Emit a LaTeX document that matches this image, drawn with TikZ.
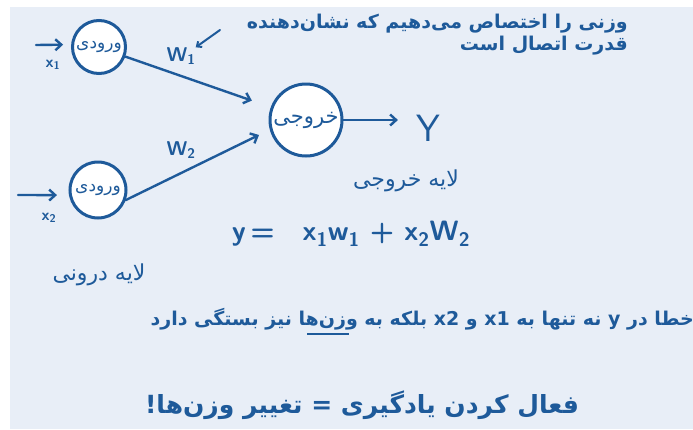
\documentclass[tikz,border=0pt]{standalone}
\usepackage{fontspec}
\usepackage{tikz}
\usetikzlibrary{arrows.meta,calc}
\newfontfamily\fa[Script=Arabic]{DejaVu Sans}
\TeXXeTstate=1
\definecolor{ink}{HTML}{1E5A9A}
\definecolor{paper}{HTML}{E8EEF7}
\newcommand\rtl[1]{\beginR #1\endR}
\newcommand\ulword[1]{\setbox0\hbox{#1}\vtop{\copy0\nointerlineskip\kern3pt\hbox to\wd0{\hss\vrule height2pt depth0pt width.7\wd0\hss}}}

\begin{document}
\begin{tikzpicture}[x=1pt, y=-1pt, >={Straight Barb[length=6pt,width=11pt]},
    neuron/.style={circle, draw=ink, line width=3pt, fill=white, inner sep=-4pt,
      text=ink, font=\fa\fontsize{17}{19}\selectfont},
    wire/.style={->, draw=ink, line width=2.4pt, line cap=round},
    lbl/.style={text=ink, inner sep=0pt}]
  \useasboundingbox (0,0) rectangle (693,429);
  \fill[white] (0,0) rectangle (693,429);
  \fill[paper] (10,7) rectangle (693,429);

  % neurons
  \node[neuron, minimum size=53pt] (in1) at (99,47) {\rtl{ورودی}};
  \node[neuron, minimum size=56pt] (in2) at (98,190) {\rtl{ورودی}};
  \node[neuron, minimum size=72pt, font=\fa\fontsize{21}{23}\selectfont] (out) at (306,120) {\rtl{خروجی}};

  % inputs
  \coordinate (x1in) at (36,45);
  \coordinate (x2in) at (18,195);
  \draw[wire, shorten >=8pt] (x1in) -- (in1.175);
  \draw[wire, shorten >=12pt] (x2in) -- (in2.190);
  \node[lbl, font=\sffamily\bfseries\fontsize{16}{18}\selectfont] (x1) at (53,65) {x\textsubscript{1}};
  \node[lbl, font=\sffamily\bfseries\fontsize{16}{18}\selectfont] (x2) at (49,218) {x\textsubscript{2}};

  % weights
  \draw[wire, shorten >=20pt] (in1.-20) -- (out.160);
  \draw[wire, shorten >=12pt] (in2.-20) -- (out.195);
  \node[lbl, font=\sffamily\bfseries\fontsize{20}{22}\selectfont] (w1) at (181,56) {W\textsubscript{1}};
  \node[lbl, font=\sffamily\bfseries\fontsize{20}{22}\selectfont] (w2) at (181,150) {W\textsubscript{2}};

  % output
  \node[lbl, font=\sffamily\fontsize{38}{40}\selectfont] (y) at (428,128) {Y};
  \draw[wire, shorten >=18pt] (out.east) -- (out.east -| y.west);

  % note on the weights
  \node[lbl, anchor=north east, align=right, font=\fa\bfseries\fontsize{19}{22}\selectfont] (note) at (628,14)
    {\rtl{وزنی را اختصاص می‌دهیم که نشان‌دهنده}\\\rtl{قدرت اتصال است}};
  \coordinate (tail) at (220,30);
  \draw[ink, line width=2pt, line cap=round, -{Straight Barb[length=4pt,width=7pt]}] (tail) -- (w1.north east);

  % layers
  \node[lbl, font=\fa\fontsize{22}{24}\selectfont] (outlayer) at (406,181) {\rtl{لایه خروجی}};
  \node[lbl, font=\fa\fontsize{22}{24}\selectfont] (inlayer) at (99,275) {\rtl{لایه درونی}};

  % formula
  \node[lbl, font=\sffamily\bfseries\fontsize{28}{30}\selectfont] (eq) at (351,234)
    {y\,=\quad x\textsubscript{1}w\textsubscript{1} + x\textsubscript{2}W\textsubscript{2}};

  % bottom lines
  \node[lbl, anchor=east, font=\fa\bfseries\fontsize{19}{21}\selectfont] (err) at (694,322)
    {\rtl{خطا در y نه تنها به \beginL x1\endL{} و \beginL x2\endL{} بلکه به \ulword{وزن‌ها} نیز بستگی دارد}};
  \node[lbl, font=\fa\bfseries\fontsize{25}{28}\selectfont] (moral) at (362,405)
    {\rtl{فعال کردن یادگیری = تغییر وزن‌ها!}};
\end{tikzpicture}
\end{document}
